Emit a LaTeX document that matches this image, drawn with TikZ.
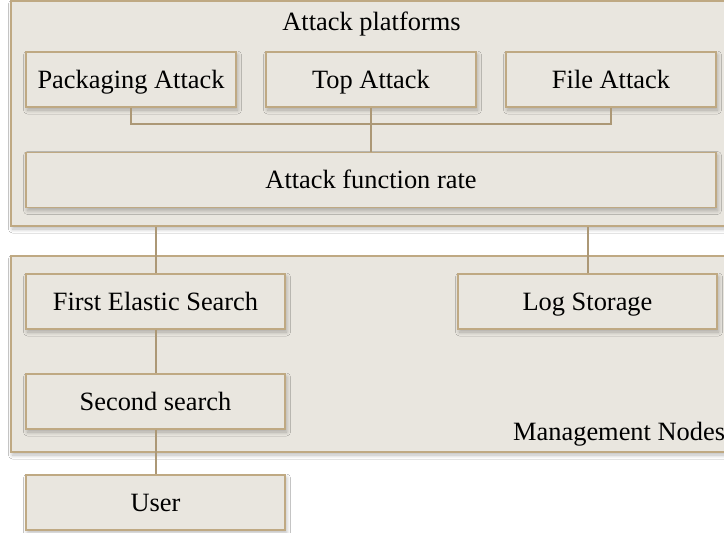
\documentclass[tikz,border=0pt]{standalone}
\usepackage{fontspec}
\setmainfont{Liberation Serif}
\usetikzlibrary{shadows.blur}
\definecolor{boxfill}{HTML}{E9E6DF}
\definecolor{boxline}{HTML}{BFA983}
\tikzset{
  panel/.style={draw=boxline, line width=1.7pt, fill=boxfill, inner sep=0pt,
    blur shadow={shadow xshift=1.5pt, shadow yshift=-3pt, shadow blur steps=8, shadow blur radius=4pt, shadow opacity=28}},
  box/.style={panel, minimum height=55pt, text height=17pt, text depth=0pt, font=\fontsize{26.4}{30}\selectfont},
  link/.style={draw=boxline!90!black, line width=2pt},
  lbl/.style={inner sep=0pt, font=\fontsize{26.4}{30}\selectfont}
}
\begin{document}
\begin{tikzpicture}[x=1pt,y=-1pt]
\useasboundingbox[fill=white] (0,0) rectangle (724,533);
\begin{scope}
\clip (0,0) rectangle (724,533);
\node[panel, minimum width=729pt, minimum height=225pt] (plat) at (375.5,113.5) {};
\node[panel, minimum width=729pt, minimum height=196pt] (mgmt) at (375.5,354) {};
\end{scope}
\node[lbl, anchor=base] (plattitle) at (371.5,30) {Attack platforms};
\node[lbl, anchor=base west] (mgmttitle) at (513,440) {Management Nodes};

\node[box, minimum width=210pt] (pack) at (131,79.5) {Packaging Attack};
\node[box, minimum width=210pt] (topa) at (371,79.5) {Top Attack};
\node[box, minimum width=210pt] (file) at (611,79.5) {File Attack};
\node[box, minimum width=690pt] (rate) at (371,180) {Attack function rate};

\coordinate (bar) at (371,124);
\draw[link] (pack.south) |- (bar) -| (file.south);
\draw[link] (topa.south) -- (rate.north);

\node[box, minimum width=259pt] (fes) at (155.5,301.5) {First Elastic Search};
\node[box, minimum width=259pt] (log) at (587.5,301.5) {Log Storage};
\node[box, minimum width=259pt] (sec) at (155.5,401.5) {Second search};
\node[box, minimum width=259pt] (user) at (155.5,502.5) {User};

\draw[link] (fes.north) -- (fes.north |- plat.south);
\draw[link] (log.north) -- (log.north |- plat.south);
\draw[link] (fes.south) -- (sec.north);
\draw[link] (sec.south) -- (user.north);
\end{tikzpicture}
\end{document}
